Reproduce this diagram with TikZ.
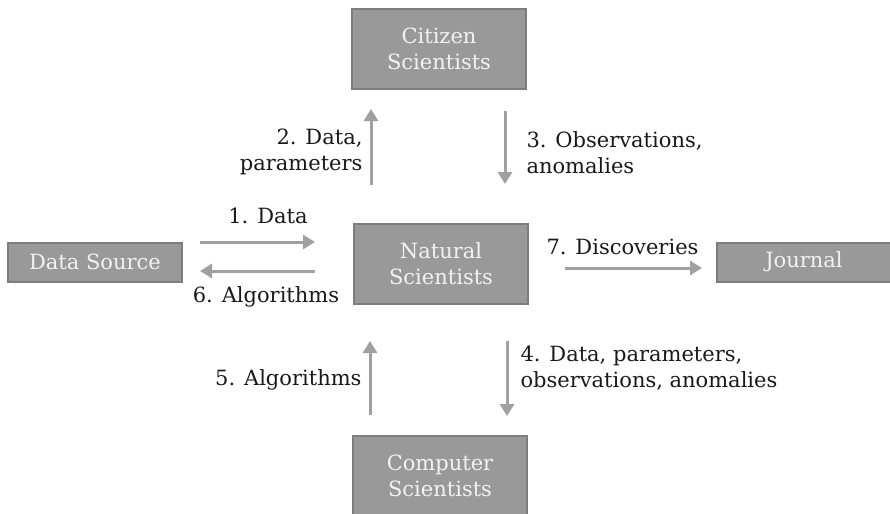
\documentclass[tikz,border=0pt]{standalone}
\usepackage{fontspec}
\setmainfont{DejaVu Serif}
\usetikzlibrary{arrows.meta}
\definecolor{boxgray}{RGB}{153, 153, 153}
\definecolor{edgegray}{RGB}{125, 125, 125}
\definecolor{arrowgray}{RGB}{160, 160, 160}
\definecolor{inkgray}{RGB}{25, 25, 25}
\tikzset{
  actor/.style={draw=edgegray, fill=boxgray, line width=1pt, text=white!95!black,
                align=center, inner sep=0pt, minimum width=87pt, minimum height=40pt},
  flatactor/.style={actor, minimum height=19.5pt},
  flow/.style={draw=arrowgray, line width=1.5pt, -{Triangle[length=6pt, width=7pt]}},
  note/.style={text=inkgray, inner sep=0pt}
}

\begin{document}
\begin{tikzpicture}[x=0.5pt, y=-0.5pt, font=\fontsize{10.5}{13}\selectfont]
            \useasboundingbox (0,0) rectangle (890,514);
            % the five parties
            \node[actor]     (cit)  at (439, 49)  {Citizen\\Scientists};
            \node[actor]     (nat)  at (441, 264) {Natural\\Scientists};
            \node[actor]     (comp) at (440, 476) {Computer\\Scientists};
            \node[flatactor] (src)  at (95, 262)  {Data Source};
            \node[flatactor] (jour) at (804, 262) {Journal};

            % flows between source and natural scientists
            \draw[flow, shorten <=8.5pt, shorten >=19pt] ([yshift=10pt]src.east) -- ([yshift=10pt]src.east -| nat.west)
                 node[note, midway, above=8.5pt] (l1) {1. Data};
            \draw[flow, shorten <=19pt, shorten >=8.5pt] ([yshift=-4.5pt]src.east -| nat.west) -- ([yshift=-4.5pt]src.east)
                 node[note, midway, below=7pt, xshift=-1pt] (l6) {6. Algorithms};

            % flows with the citizen scientists
            \draw[flow, shorten <=19pt, shorten >=9.5pt] ([xshift=9pt]nat.north west) -- ([xshift=9pt]nat.north west |- cit.south)
                 node[note, midway, left=3.5pt, yshift=2.5pt, align=right] (l2) {2. Data,\\parameters};
            \draw[flow, shorten <=10.5pt, shorten >=19.5pt] ([xshift=-11pt]cit.south east) -- ([xshift=-11pt]cit.south east |- nat.north)
                 node[note, midway, right=10pt, yshift=2pt, align=left] (l3) {3. Observations,\\anomalies};

            % flows with the computer scientists
            \draw[flow, shorten <=10pt, shorten >=18pt] ([xshift=9pt]comp.north west) -- ([xshift=9pt]comp.north west |- nat.south)
                 node[note, midway, left=3.5pt, yshift=-5pt] (l5) {5. Algorithms};
            \draw[flow, shorten <=18pt, shorten >=9.5pt] ([xshift=-11pt]nat.south east) -- ([xshift=-11pt]nat.south east |- comp.north)
                 node[note, midway, right=6pt, yshift=1pt, align=left] (l4) {4. Data, parameters,\\observations, anomalies};

            % result to the journal
            \draw[flow, shorten <=18pt, shorten >=7pt] ([yshift=-2pt]nat.east) -- ([yshift=-2pt]nat.east -| jour.west)
                 node[note, midway, above=6pt] (l7) {7. Discoveries};
        \end{tikzpicture}
\end{document}
